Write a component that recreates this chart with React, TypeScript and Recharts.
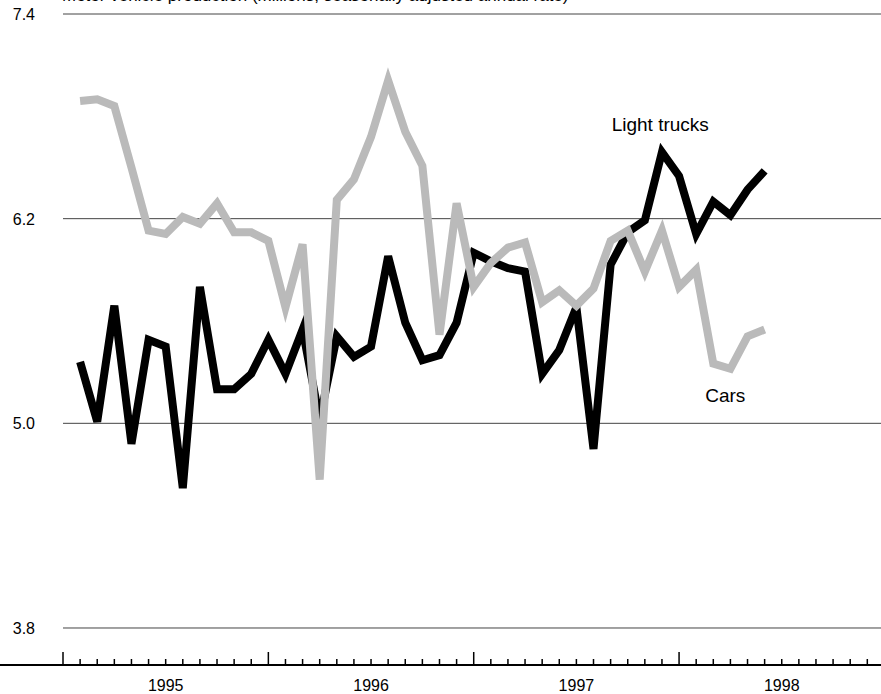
import React from 'react';
import {
  LineChart,
  Line,
  XAxis,
  YAxis,
  CartesianGrid,
  ReferenceDot,
  Label,
  Customized,
} from 'recharts';

// Monthly, Jan 1995 – May 1998
const months = [
  'Jan 1995', 'Feb 1995', 'Mar 1995', 'Apr 1995', 'May 1995', 'Jun 1995',
  'Jul 1995', 'Aug 1995', 'Sep 1995', 'Oct 1995', 'Nov 1995', 'Dec 1995',
  'Jan 1996', 'Feb 1996', 'Mar 1996', 'Apr 1996', 'May 1996', 'Jun 1996',
  'Jul 1996', 'Aug 1996', 'Sep 1996', 'Oct 1996', 'Nov 1996', 'Dec 1996',
  'Jan 1997', 'Feb 1997', 'Mar 1997', 'Apr 1997', 'May 1997', 'Jun 1997',
  'Jul 1997', 'Aug 1997', 'Sep 1997', 'Oct 1997', 'Nov 1997', 'Dec 1997',
  'Jan 1998', 'Feb 1998', 'Mar 1998', 'Apr 1998', 'May 1998',
];

const lightTrucks = [
  5.36, 5.01, 5.69, 4.88, 5.49, 5.45, 4.62, 5.8, 5.2, 5.2,
  5.29, 5.49, 5.29, 5.55, 5.02, 5.51, 5.39, 5.45, 5.98, 5.59,
  5.37, 5.4, 5.59, 6.0, 5.95, 5.91, 5.89, 5.29, 5.43, 5.68,
  4.85, 5.93, 6.12, 6.19, 6.59, 6.45, 6.11, 6.3, 6.22, 6.37, 6.48,
];

const cars = [
  6.89, 6.9, 6.86, 6.5, 6.13, 6.11, 6.21, 6.17, 6.29, 6.12,
  6.12, 6.07, 5.68, 6.05, 4.67, 6.31, 6.43, 6.68, 7.01, 6.71,
  6.51, 5.52, 6.29, 5.8, 5.94, 6.03, 6.06, 5.71, 5.78, 5.69,
  5.79, 6.07, 6.13, 5.89, 6.13, 5.8, 5.9, 5.35, 5.32, 5.51, 5.55,
];

const yTicks = [3.8, 5.0, 6.2, 7.4];
const years = ['1995', '1996', '1997', '1998'];
const monthTicks = Array.from({ length: 48 }, (_, i) => i);

const title = 'Motor vehicle production (millions, seasonally adjusted annual rate)';

const data = months.map((m, i) => ({
  x: i + 1,
  month: m,
  trucks: lightTrucks[i],
  cars: cars[i],
}));

const FONT = '"Liberation Sans", Arial, Helvetica, sans-serif';

const XTick = (props: any) => {
  const { x, y, payload } = props;
  const v = payload.value as number;
  const major = v % 12 === 0;
  const len = major ? 13 : 6;
  const yearIdx = Math.floor(v / 12);
  return (
    <g>
      <line x1={x} x2={x} y1={y} y2={y - len} stroke="#000" strokeWidth={1.5} />
      {v % 12 === 6 && (
        <text
          x={x}
          y={y + 26}
          textAnchor="middle"
          fontSize={16}
          fontFamily={FONT}
          fill="#000"
        >
          {years[yearIdx]}
        </text>
      )}
    </g>
  );
};

const YTick = (props: any) => {
  const { y, payload } = props;
  return (
    <text x={35} y={y + 6} textAnchor="end" fontSize={16} fontFamily={FONT} fill="#000">
      {Number(payload.value).toFixed(1)}
    </text>
  );
};

const Decor = () => (
  <g>
    <line x1={0} x2={64} y1={665} y2={665} stroke="#000" strokeWidth={2} />
    <text x={62} y={1} fontSize={17} fontFamily={FONT} fill="#000">
      {title}
    </text>
  </g>
);

export default function App() {
  return (
    <div style={{ position: 'absolute', left: 0, top: 0, width: 881, height: 694, background: '#fff' }}>
      <LineChart
        width={881}
        height={694}
        data={data}
        margin={{ top: 14, right: 0, bottom: 0, left: 0 }}
      >
        <CartesianGrid vertical={false} stroke="#444" strokeWidth={1} />
        <XAxis
          dataKey="x"
          type="number"
          domain={[0, 47.8]}
          ticks={monthTicks}
          interval={0}
          tickLine={false}
          tickSize={0}
          tickMargin={0}
          height={29}
          axisLine={{ stroke: '#000', strokeWidth: 2 }}
          tick={<XTick />}
          allowDataOverflow
        />
        <YAxis
          type="number"
          domain={[3.583, 7.4]}
          ticks={yTicks}
          interval={0}
          width={63}
          axisLine={false}
          tickLine={false}
          tick={<YTick />}
          allowDataOverflow
        />
        <Line
          type="linear"
          dataKey="trucks"
          stroke="#000"
          strokeWidth={8}
          dot={false}
          activeDot={false}
          isAnimationActive={false}
        />
        <Line
          type="linear"
          dataKey="cars"
          stroke="#bababa"
          strokeWidth={8}
          dot={false}
          activeDot={false}
          isAnimationActive={false}
        />
        <ReferenceDot x={34.9} y={6.755} r={0} stroke="none" fill="none">
          <Label value="Light trucks" position="center" fill="#000" fontSize={19} fontFamily={FONT} />
        </ReferenceDot>
        <ReferenceDot x={38.7} y={5.163} r={0} stroke="none" fill="none">
          <Label value="Cars" position="center" fill="#000" fontSize={19} fontFamily={FONT} />
        </ReferenceDot>
        <Customized component={<Decor />} />
      </LineChart>
    </div>
  );
}
